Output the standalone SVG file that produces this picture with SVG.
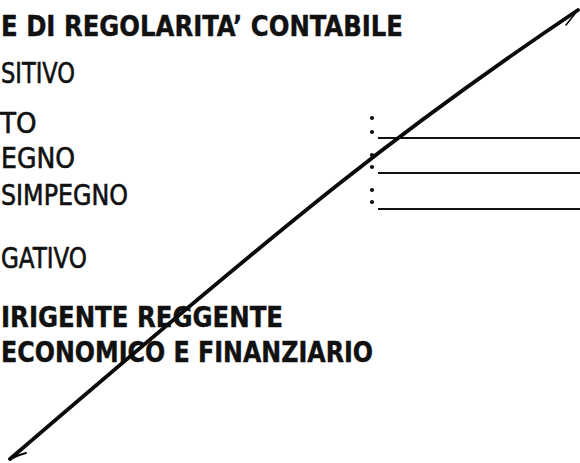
<svg xmlns="http://www.w3.org/2000/svg" width="580" height="463" viewBox="0 0 580 463">
<style>
.t{font-family:"DejaVu Sans Condensed","DejaVu Sans",sans-serif;font-size:29px;fill:#111;stroke:#111;stroke-width:0.6}
.b{font-weight:bold;font-size:28px;stroke-width:0.4}
.ln{stroke:#111;stroke-width:2.2;fill:none}
.dot{fill:#111}
.pen{stroke:#0a0a0a;stroke-width:3.8;fill:none;stroke-linecap:round;stroke-linejoin:round}
</style>
<rect width="580" height="463" fill="#fff"/>
<g id="texts">
<text class="t b" x="1" y="36" textLength="402" lengthAdjust="spacingAndGlyphs">E DI REGOLARITA’ CONTABILE</text>
<text class="t" x="1" y="83" textLength="74" lengthAdjust="spacingAndGlyphs">SITIVO</text>
<text class="t" x="0" y="133">TO</text>
<text class="t" x="1" y="168" textLength="74" lengthAdjust="spacingAndGlyphs">EGNO</text>
<text class="t" x="1" y="205" textLength="127" lengthAdjust="spacingAndGlyphs">SIMPEGNO</text>
<text class="t" x="1" y="268" textLength="86" lengthAdjust="spacingAndGlyphs">GATIVO</text>
<text class="t b" x="1" y="327" textLength="282" lengthAdjust="spacingAndGlyphs">IRIGENTE REGGENTE</text>
<text class="t b" x="1" y="362" textLength="372" lengthAdjust="spacingAndGlyphs">ECONOMICO E FINANZIARIO</text>
</g>
<g id="fields">
<circle class="dot" cx="372" cy="118" r="2.1"/><circle class="dot" cx="372" cy="132" r="2.1"/>
<circle class="dot" cx="372" cy="155" r="2.1"/><circle class="dot" cx="372" cy="167" r="2.1"/>
<circle class="dot" cx="372" cy="190" r="2.1"/><circle class="dot" cx="372" cy="202" r="2.1"/>
<line class="ln" x1="378" y1="138" x2="580" y2="138"/>
<line class="ln" x1="378" y1="173" x2="580" y2="173"/>
<line class="ln" x1="378" y1="209" x2="580" y2="209"/>
</g>
<g id="strike">
<path class="pen" d="M 10 459 Q 230 270 340 183 T 578 10"/>
<path class="pen" style="stroke-width:1.6" d="M 578 10 L 566 25"/>
<path class="pen" style="stroke-width:2" d="M 10 459 Q 18 455 26 453"/>
</g>
</svg>
